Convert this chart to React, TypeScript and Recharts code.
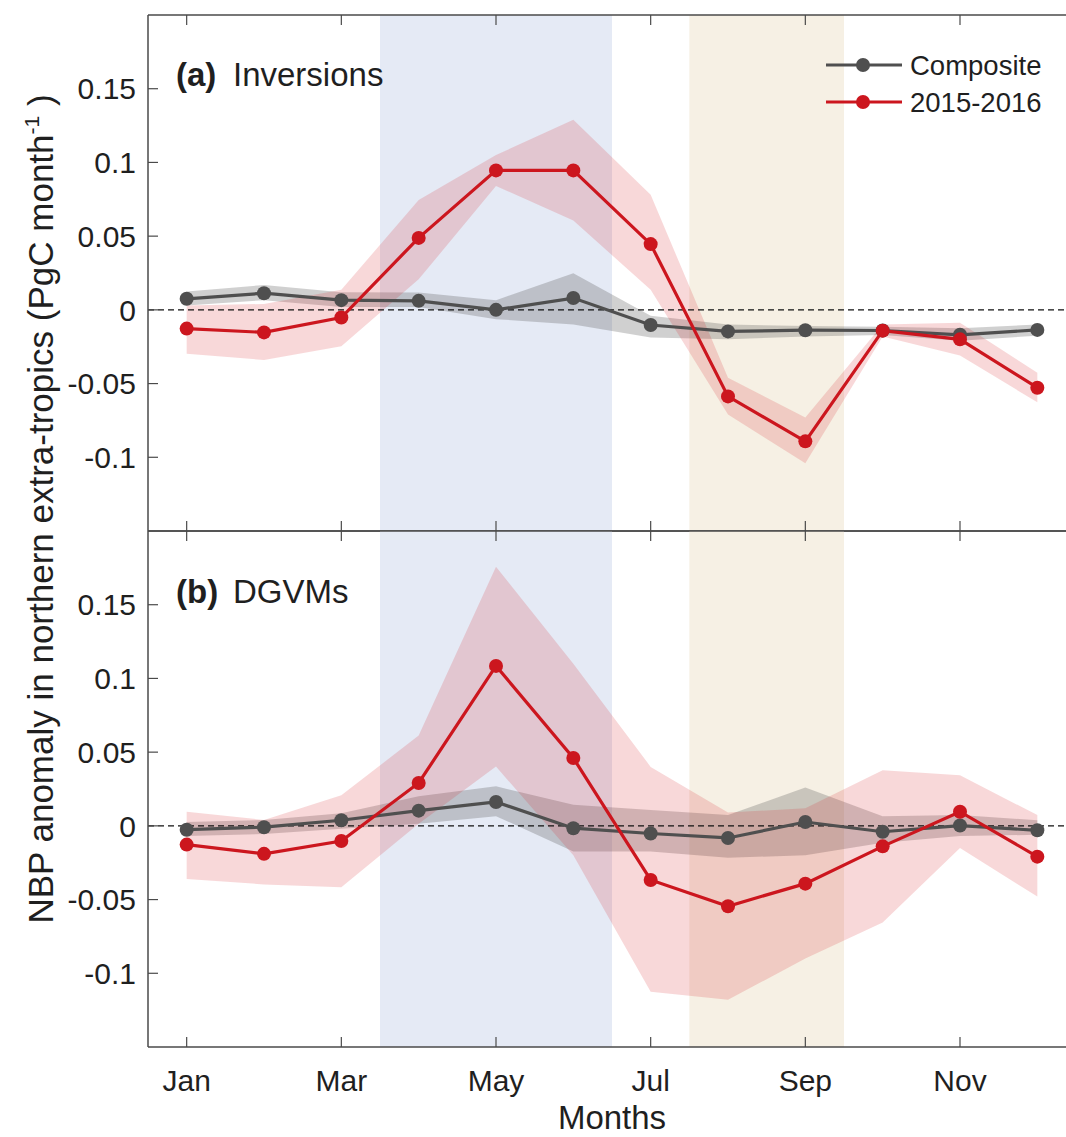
import React from 'react';
import { ComposedChart, Line, Area, XAxis, YAxis, ReferenceArea, ReferenceLine } from 'recharts';

// ---------- data ----------
const months = [1, 2, 3, 4, 5, 6, 7, 8, 9, 10, 11, 12];
const monthNames = ['Jan', 'Feb', 'Mar', 'Apr', 'May', 'Jun', 'Jul', 'Aug', 'Sep', 'Oct', 'Nov', 'Dec'];
const monthTicks = [1, 3, 5, 7, 9, 11];
const yTicks = [-0.1, -0.05, 0, 0.05, 0.1, 0.15];
const yTickLabels = ['-0.1', '-0.05', '0', '0.05', '0.1', '0.15'];

// shaded seasons (month positions)
const springSpan = [3.5, 6.5];
const summerSpan = [7.5, 9.5];

// (a) Inversions
const invComposite = [0.0075, 0.0113, 0.0066, 0.0061, 0.0, 0.008, -0.0103, -0.0146, -0.0138, -0.014, -0.0169, -0.0136];
const invCompositeLow = [0.003, 0.0066, 0.002, 0.002, -0.0063, -0.0099, -0.0188, -0.02, -0.018, -0.017, -0.021, -0.0175];
const invCompositeHigh = [0.0124, 0.0169, 0.012, 0.0117, 0.0066, 0.0249, -0.004, -0.0099, -0.011, -0.0115, -0.0125, -0.01];
const inv2015 = [-0.0127, -0.0153, -0.0052, 0.0488, 0.0946, 0.0946, 0.0446, -0.0587, -0.0892, -0.0141, -0.02, -0.0528];
const inv2015Low = [-0.0298, -0.034, -0.0246, 0.0207, 0.084, 0.0606, 0.0136, -0.071, -0.104, -0.018, -0.031, -0.0627];
const inv2015High = [0.003, 0.004, 0.0136, 0.0746, 0.105, 0.129, 0.078, -0.046, -0.073, -0.01, -0.0087, -0.0427];

// (b) DGVMs
const dgvmComposite = [-0.0026, -0.0009, 0.0038, 0.0103, 0.0162, -0.0016, -0.0052, -0.0082, 0.0026, -0.004, 0.0002, -0.003];
const dgvmCompositeLow = [-0.0068, -0.0056, -0.002, 0.0014, 0.0066, -0.0174, -0.0174, -0.0216, -0.02, -0.0115, -0.0068, -0.0061];
const dgvmCompositeHigh = [0.0026, 0.004, 0.0085, 0.02, 0.0268, 0.0143, 0.0108, 0.0073, 0.026, 0.0066, 0.0073, 0.0038];
const dgvm2015 = [-0.0127, -0.019, -0.0103, 0.0291, 0.1085, 0.046, -0.0367, -0.0545, -0.0392, -0.0139, 0.0096, -0.0209];
const dgvm2015Low = [-0.036, -0.0397, -0.0416, 0.0014, 0.0402, -0.02, -0.1126, -0.118, -0.09, -0.0656, -0.015, -0.048];
const dgvm2015High = [0.0096, 0.004, 0.0207, 0.0613, 0.1758, 0.11, 0.04, 0.009, 0.012, 0.0378, 0.0343, 0.0073];

const seriesNames = ['Composite', '2015-2016'];

// ---------- style ----------
const FONT = '"Liberation Sans", Arial, Helvetica, sans-serif';
const GRAY = '#4f4f4f';
const RED = '#cc161e';
const AXIS = '#4a4a4a';
const TEXT = '#1f1f1f';
const CHART_W = 1110;

function buildRows(c: number[], cl: number[], ch: number[], e: number[], el: number[], eh: number[]) {
  return months.map((m, i) => ({
    m,
    comp: c[i],
    compBand: [cl[i], ch[i]],
    ev: e[i],
    evBand: [el[i], eh[i]],
  }));
}

const rowsA = buildRows(invComposite, invCompositeLow, invCompositeHigh, inv2015, inv2015Low, inv2015High);
const rowsB = buildRows(dgvmComposite, dgvmCompositeLow, dgvmCompositeHigh, dgvm2015, dgvm2015Low, dgvm2015High);

const emptyTick = () => <g />;

function Panel({ rows, height, marginTop, bottomHeight, showLabels }: any) {
  return (
    <ComposedChart
      width={CHART_W}
      height={height}
      data={rows}
      margin={{ top: marginTop, right: 33, bottom: 0, left: 0 }}
      style={{ fontFamily: FONT }}
    >
      <XAxis
        dataKey="m"
        type="number"
        domain={[0.5, 12.5]}
        ticks={monthTicks}
        allowDataOverflow
        orientation="bottom"
        height={bottomHeight}
        tickSize={-10}
        tickMargin={33}
        tickFormatter={(v: number) => monthNames[v - 1]}
        tick={showLabels ? { fill: TEXT, fontSize: 30, fontFamily: FONT } : emptyTick}
        axisLine={{ stroke: AXIS, strokeWidth: 1.5 }}
        tickLine={{ stroke: AXIS, strokeWidth: 1.2 }}
        label={showLabels ? { value: 'Months', position: 'insideBottom', offset: 8, fill: TEXT, fontSize: 33, fontFamily: FONT } : undefined}
      />
      <XAxis
        xAxisId="top"
        dataKey="m"
        type="number"
        domain={[0.5, 12.5]}
        ticks={monthTicks}
        allowDataOverflow
        orientation="top"
        height={1}
        tickSize={-10}
        tick={emptyTick}
        axisLine={{ stroke: AXIS, strokeWidth: 1.5 }}
        tickLine={{ stroke: AXIS, strokeWidth: 1.2 }}
      />
      <YAxis
        type="number"
        domain={[-0.15, 0.2]}
        ticks={yTicks}
        allowDataOverflow
        width={148}
        tickSize={-10}
        tickMargin={22}
        tickFormatter={(v: number) => yTickLabels[yTicks.indexOf(v)]}
        tick={{ fill: TEXT, fontSize: 30, fontFamily: FONT }}
        axisLine={{ stroke: AXIS, strokeWidth: 1.5 }}
        tickLine={{ stroke: AXIS, strokeWidth: 1.2 }}
      />
      <YAxis
        yAxisId="right"
        orientation="right"
        type="number"
        domain={[-0.15, 0.2]}
        ticks={yTicks}
        allowDataOverflow
        width={1}
        tickSize={-10}
        tick={emptyTick}
        axisLine={{ stroke: AXIS, strokeWidth: 1.5 }}
        tickLine={{ stroke: AXIS, strokeWidth: 1.2 }}
      />
      <ReferenceArea x1={springSpan[0]} x2={springSpan[1]} fill="#e5eaf5" fillOpacity={1} stroke="none" />
      <ReferenceArea x1={summerSpan[0]} x2={summerSpan[1]} fill="#f6f0e4" fillOpacity={1} stroke="none" />
      <Area
        type="linear"
        dataKey="compBand"
        stroke="none"
        fill="#505050"
        fillOpacity={0.27}
        isAnimationActive={false}
        dot={false}
        activeDot={false}
      />
      <Area
        type="linear"
        dataKey="evBand"
        stroke="none"
        fill="#d7262e"
        fillOpacity={0.18}
        isAnimationActive={false}
        dot={false}
        activeDot={false}
      />
      <ReferenceLine y={0} stroke="#111" strokeWidth={1.3} strokeDasharray="6 4" />
      <Line
        type="linear"
        dataKey="comp"
        stroke={GRAY}
        strokeWidth={3.2}
        dot={{ r: 7, fill: GRAY, stroke: GRAY, strokeWidth: 0 }}
        activeDot={false}
        isAnimationActive={false}
      />
      <Line
        type="linear"
        dataKey="ev"
        stroke={RED}
        strokeWidth={3.2}
        dot={{ r: 7, fill: RED, stroke: RED, strokeWidth: 0 }}
        activeDot={false}
        isAnimationActive={false}
      />
    </ComposedChart>
  );
}

export default function App() {
  return (
    <div
      style={{
        position: 'absolute',
        left: 0,
        top: 0,
        width: 1066,
        height: 1137,
        overflow: 'hidden',
        background: '#fff',
        fontFamily: FONT,
      }}
    >
      <div style={{ position: 'absolute', left: 0, top: 0 }}>
        <Panel rows={rowsA} height={532} marginTop={14} bottomHeight={1} showLabels={false} />
      </div>
      <div style={{ position: 'absolute', left: 0, top: 530 }}>
        <Panel rows={rowsB} height={607} marginTop={0} bottomHeight={90} showLabels={true} />
      </div>
      <svg
        width={1066}
        height={1137}
        style={{ position: 'absolute', left: 0, top: 0, pointerEvents: 'none' }}
      >
        {/* panel titles */}
        <text x={176} y={86} fontSize={33} fontFamily={FONT} fill={TEXT}>
          <tspan fontWeight="bold">(a)</tspan>
        </text>
        <text x={233} y={86} fontSize={33} fontFamily={FONT} fill={TEXT}>Inversions</text>
        <text x={176} y={603} fontSize={33} fontFamily={FONT} fill={TEXT}>
          <tspan fontWeight="bold">(b)</tspan>
        </text>
        <text x={233} y={603} fontSize={33} fontFamily={FONT} fill={TEXT}>DGVMs</text>

        {/* y-axis label */}
        <text
          transform="translate(53,509) rotate(-90)"
          textAnchor="middle"
          fontSize={35}
          fontFamily={FONT}
          fill={TEXT}
        >
          NBP anomaly in northern extra-tropics (PgC month
          <tspan fontSize={21} dy={-14}>-1</tspan>
          <tspan dy={14}> )</tspan>
        </text>

        {/* legend */}
        <line x1={826} x2={902} y1={65} y2={65} stroke={GRAY} strokeWidth={3.2} />
        <circle cx={863} cy={65} r={7} fill={GRAY} />
        <text x={910} y={75} fontSize={27.5} fontFamily={FONT} fill={TEXT}>{seriesNames[0]}</text>
        <line x1={826} x2={902} y1={102} y2={102} stroke={RED} strokeWidth={3.2} />
        <circle cx={863} cy={102} r={7} fill={RED} />
        <text x={910} y={112} fontSize={27.5} fontFamily={FONT} fill={TEXT}>{seriesNames[1]}</text>
      </svg>
    </div>
  );
}
